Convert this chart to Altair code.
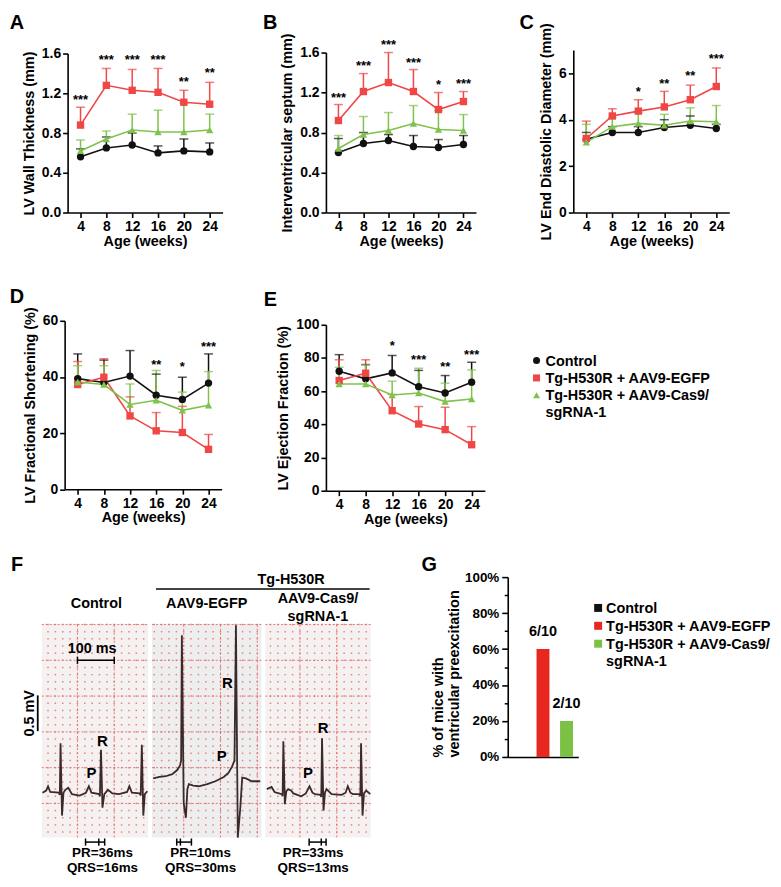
import altair as alt
import pandas as pd

FONT = "Liberation Sans"
W, H = 770, 871
M = 8  # page margin


def cx(x):
    return x - M


def cy(y):
    return y - M


weeks = [4, 8, 12, 16, 20, 24]
groups = ["Control", "Tg-H530R + AAV9-EGFP", "Tg-H530R + AAV9-Cas9/ sgRNA-1"]
legend_text = ["Control", "Tg-H530R + AAV9-EGFP", "Tg-H530R + AAV9-Cas9/\nsgRNA-1"]
line_colors = ["#111111", "#ef4646", "#7fc24c"]
bar_colors = ["#111111", "#e8271f", "#7bc143"]
shapes = ["circle", "square", "triangle-up"]

# ---- A: LV wall thickness (mean, upper error bar) ----
a_ctrl = [0.56, 0.65, 0.68, 0.60, 0.62, 0.61]
a_ctrl_up = [0.64, 0.76, 0.80, 0.67, 0.74, 0.70]
a_egfp = [0.88, 1.28, 1.23, 1.21, 1.11, 1.09]
a_egfp_up = [1.06, 1.45, 1.44, 1.45, 1.23, 1.31]
a_cas = [0.62, 0.74, 0.83, 0.81, 0.81, 0.83]
a_cas_up = [0.73, 0.82, 0.99, 1.03, 1.10, 0.99]
a_sig = ["***", "***", "***", "***", "**", "**"]
a_sig_y = [1.13, 1.53, 1.53, 1.53, 1.31, 1.40]

# ---- B: interventricular septum ----
b_ctrl = [0.60, 0.69, 0.72, 0.66, 0.65, 0.68]
b_ctrl_up = [0.74, 0.80, 0.78, 0.77, 0.73, 0.77]
b_egfp = [0.92, 1.21, 1.30, 1.21, 1.03, 1.11]
b_egfp_up = [1.08, 1.39, 1.60, 1.43, 1.20, 1.21]
b_cas = [0.64, 0.78, 0.82, 0.89, 0.83, 0.82]
b_cas_up = [0.77, 0.96, 1.00, 1.07, 1.02, 0.98]
b_sig = ["***", "***", "***", "***", "*", "***"]
b_sig_y = [1.15, 1.47, 1.68, 1.50, 1.28, 1.29]

# ---- C: LV end diastolic diameter ----
c_ctrl = [3.16, 3.45, 3.45, 3.66, 3.76, 3.62]
c_ctrl_up = [3.45, 3.70, 3.70, 4.00, 4.16, 3.80]
c_egfp = [3.19, 4.16, 4.37, 4.55, 4.86, 5.43]
c_egfp_up = [3.94, 4.47, 4.86, 5.22, 5.49, 6.23]
c_cas = [3.02, 3.70, 3.84, 3.76, 3.94, 3.91]
c_cas_up = [3.80, 4.09, 4.30, 4.23, 4.51, 4.61]
c_sig = ["", "", "*", "**", "**", "***"]
c_sig_y = [0, 0, 5.2, 5.55, 5.86, 6.6]

# ---- D: LV fractional shortening ----
d_ctrl = [39.4, 38.0, 40.3, 33.5, 32.0, 37.8]
d_ctrl_up = [48.2, 46.0, 49.4, 41.0, 39.9, 48.2]
d_egfp = [37.3, 39.9, 26.1, 20.8, 20.2, 14.2]
d_egfp_up = [45.5, 46.5, 32.9, 27.3, 29.5, 19.5]
d_cas = [38.2, 37.3, 30.2, 31.7, 28.1, 29.9]
d_cas_up = [44.0, 44.0, 37.5, 42.3, 34.6, 41.9]
d_sig = ["", "", "", "**", "*", "***"]
d_sig_y = [0, 0, 0, 44.4, 43.5, 50.8]

# ---- E: LV ejection fraction ----
e_ctrl = [72.0, 67.4, 71.0, 62.7, 58.9, 65.4]
e_ctrl_up = [82.0, 76.0, 81.5, 72.5, 69.4, 77.4]
e_egfp = [66.4, 70.8, 48.2, 40.2, 36.8, 27.7]
e_egfp_up = [78.9, 78.9, 58.0, 50.7, 50.3, 38.6]
e_cas = [64.3, 64.3, 57.7, 58.9, 53.7, 55.3]
e_cas_up = [74.4, 75.8, 66.0, 73.8, 64.8, 72.8]
e_sig = ["", "", "*", "***", "**", "***"]
e_sig_y = [0, 0, 86.9, 78.9, 74.4, 81.9]

# ---- F: ECG traces (time in ms, voltage in mV) ----
ecg1_t = [2, 12, 17, 23, 46, 49, 51, 55, 59, 64, 72, 82, 103, 120, 128, 135, 156, 158, 161, 165, 170, 180,
          192, 210, 232, 238, 245, 266, 269, 272, 276, 280, 287]
ecg1_v = [0.00, 0.03, 0.09, 0.01, 0.00, -0.03, 0.69, -0.32, 0.00, 0.04, 0.07, -0.02, -0.04, 0.00, 0.09, 0.00,
          -0.02, -0.05, 0.60, -0.21, -0.02, 0.04, -0.01, -0.02, 0.01, 0.09, 0.00, -0.01, -0.04, 0.67, -0.32,
          -0.02, 0.02]
ecg2_t = [3, 20, 37, 55, 69, 76, 79, 81, 86, 92, 96, 100, 112, 127, 150, 172, 195, 208, 217, 224, 228, 233,
          240, 245, 255, 271, 294]
ecg2_v = [0.20, 0.22, 0.23, 0.26, 0.32, 0.38, 0.45, 2.20, -0.15, -0.35, 0.05, 0.12, 0.10, 0.09, 0.12, 0.16,
          0.22, 0.28, 0.36, 0.45, 2.34, -0.63, -0.20, 0.21, 0.20, 0.16, 0.16]
ecg3_t = [4, 17, 25, 30, 45, 47, 49, 53, 57, 62, 70, 76, 98, 110, 120, 128, 135, 150, 152, 154, 158, 162, 166,
          180, 207, 218, 224, 231, 238, 256, 258, 260, 264, 268, 274, 285]
ecg3_v = [0.05, 0.08, 0.01, 0.00, -0.02, -0.05, 0.72, -0.16, 0.02, 0.05, 0.03, -0.01, -0.05, -0.01, 0.09, 0.00,
          -0.02, -0.03, -0.06, 0.76, -0.25, 0.00, 0.05, -0.02, -0.03, 0.00, 0.09, 0.00, -0.02, -0.02, -0.05,
          0.69, -0.32, -0.01, 0.03, -0.02]
pr_ms = [36, 10, 33]
qrs_ms = [16, 30, 13]
interval_start = [119, 67, 119]
p_label_pos = [(135, 0.28), (189, 0.51), (116, 0.28)]
r_label_pos = [(165, 0.72), (205, 1.53), (157, 0.90)]
interval_text_t = [165, 132, 130]
grid_phase_ms = [97, 86, 94]
scale_ms = 100
scale_mv = 0.5

# ---- G: preexcitation ----
g_pos = [0, 6, 2]
g_n = [10, 10, 10]

AX = dict(labelFont=FONT, labelFontSize=14, labelFontWeight="bold", labelColor="black",
          titleFont=FONT, titleFontSize=14.5, titleFontWeight="bold", titleColor="black",
          domainColor="black", domainWidth=1.6, tickColor="black", tickWidth=1.6, tickSize=5,
          grid=False, labelOverlap=False, labelPadding=2)


def series_frame(means, uppers):
    rows = []
    for g, m, u in zip(groups, means, uppers):
        for w, mv, uv in zip(weeks, m, u):
            rows.append({"week": w, "group": g, "mean": mv, "upper": uv})
    return pd.DataFrame(rows)


def sig_frame(labels, ys):
    return pd.DataFrame([{"week": w, "label": l, "y": y} for w, l, y in zip(weeks, labels, ys) if l])


def time_panel(df, sdf, ydom, xr, yr, yvals, yfmt, ytitle):
    xs = alt.Scale(domain=[2, 26], range=[cx(xr[0]), cx(xr[1])], nice=False, zero=False)
    ys = alt.Scale(domain=ydom, range=[cy(yr[0]), cy(yr[1])], nice=False, zero=False)
    xax = alt.Axis(orient="bottom", offset=cy(yr[0]) - H, values=weeks, title="Age (weeks)",
                   titlePadding=1, **AX)
    yax = alt.Axis(orient="left", offset=-cx(xr[0]), values=yvals, format=yfmt, title=ytitle,
                   titlePadding=5, **AX)
    X = alt.X("week:Q", scale=xs, axis=xax)
    col = alt.Color("group:N", scale=alt.Scale(domain=groups, range=line_colors), legend=None)
    shp = alt.Shape("group:N", scale=alt.Scale(domain=groups, range=shapes), legend=None)
    base = alt.Chart(df)
    err = base.mark_rule(strokeWidth=1.5).encode(
        x=X, y=alt.Y("mean:Q", scale=ys, axis=yax), y2="upper:Q", color=col)
    cap = base.mark_tick(orient="horizontal", size=9, thickness=1.5).encode(
        x=X, y=alt.Y("upper:Q", scale=ys, axis=yax), color=col)
    line = base.mark_line(strokeWidth=1.6).encode(
        x=X, y=alt.Y("mean:Q", scale=ys, axis=yax), color=col)
    pts = base.mark_point(filled=True, size=55, opacity=1).encode(
        x=X, y=alt.Y("mean:Q", scale=ys, axis=yax), color=col, shape=shp)
    stars = alt.Chart(sdf).mark_text(font=FONT, fontSize=13, fontWeight="bold", color="black").encode(
        x=X, y=alt.Y("y:Q", scale=ys, axis=yax), text="label:N")
    return alt.layer(err, cap, line, pts, stars)


panel_a = time_panel(series_frame([a_ctrl, a_egfp, a_cas], [a_ctrl_up, a_egfp_up, a_cas_up]),
                     sig_frame(a_sig, a_sig_y), [0, 1.6], (68, 224), (211, 51),
                     [0, 0.4, 0.8, 1.2, 1.6], ".1f", "LV Wall Thickness (mm)")
panel_b = time_panel(series_frame([b_ctrl, b_egfp, b_cas], [b_ctrl_up, b_egfp_up, b_cas_up]),
                     sig_frame(b_sig, b_sig_y), [0, 1.6], (328, 479), (211, 50),
                     [0, 0.4, 0.8, 1.2, 1.6], ".1f", "Interventricular septum (mm)")
panel_c = time_panel(series_frame([c_ctrl, c_egfp, c_cas], [c_ctrl_up, c_egfp_up, c_cas_up]),
                     sig_frame(c_sig, c_sig_y), [0, 7], (577, 734), (211, 47.5),
                     [0, 2, 4, 6], "d", "LV End Diastolic Diameter (mm)")
panel_d = time_panel(series_frame([d_ctrl, d_egfp, d_cas], [d_ctrl_up, d_egfp_up, d_cas_up]),
                     sig_frame(d_sig, d_sig_y), [0, 60], (65, 223), (489.5, 320),
                     [0, 20, 40, 60], "d", "LV Fractional Shortening (%)")
panel_e = time_panel(series_frame([e_ctrl, e_egfp, e_cas], [e_ctrl_up, e_egfp_up, e_cas_up]),
                     sig_frame(e_sig, e_sig_y), [0, 100], (328, 488), (491, 324),
                     [0, 20, 40, 60, 80, 100], "d", "LV Ejection Fraction (%)")

# ---- ECG panels ----
ECG_V = [-0.625, 2.36]
ECG_Y = (840, 625)


def ecg_panel(i, t, v, xr, tmax, bg, extras=()):
    xs = alt.Scale(domain=[0, tmax], range=[cx(xr[0]), cx(xr[1])], nice=False, zero=False)
    ys = alt.Scale(domain=ECG_V, range=[cy(ECG_Y[0]), cy(ECG_Y[1])], nice=False, zero=False)
    X = lambda f: alt.X(f, scale=xs, axis=None)
    Y = lambda f: alt.Y(f, scale=ys, axis=None)
    rect = alt.Chart(pd.DataFrame({"x0": [0], "x1": [tmax], "y0": [ECG_V[0]], "y1": [ECG_V[1]]})).mark_rect(
        color=bg).encode(x=X("x0:Q"), x2="x1:Q", y=Y("y0:Q"), y2="y1:Q")
    # ECG paper: major lines every 100 ms / 0.5 mV, dots every 20 ms / 0.1 mV
    gx0, gv0 = grid_phase_ms[i], -0.15
    maj_x = [gx0 + 100 * k for k in range(-2, 4) if 0 < gx0 + 100 * k < tmax]
    maj_v = [round(gv0 + 0.5 * k, 3) for k in range(-1, 6) if ECG_V[0] < gv0 + 0.5 * k < ECG_V[1]]
    min_x = [gx0 + 20 * k for k in range(-6, 12) if 0 < gx0 + 20 * k < tmax]
    min_v = [round(gv0 + 0.1 * k, 3) for k in range(-5, 26) if ECG_V[0] < gv0 + 0.1 * k < ECG_V[1]]
    vgrid = alt.Chart(pd.DataFrame({"t": maj_x, "a": ECG_V[0], "b": ECG_V[1]})).mark_rule(
        color="#e46a6a", strokeWidth=0.9, strokeDash=[2, 2]).encode(x=X("t:Q"), y=Y("a:Q"), y2="b:Q")
    hgrid = alt.Chart(pd.DataFrame({"v": maj_v, "a": 0, "b": tmax})).mark_rule(
        color="#e46a6a", strokeWidth=0.9, strokeDash=[2, 2]).encode(y=Y("v:Q"), x=X("a:Q"), x2="b:Q")
    dots = alt.Chart(pd.DataFrame([{"t": a, "v": b} for a in min_x for b in min_v])).mark_square(
        size=2.2, color="#e27575", opacity=0.9).encode(x=X("t:Q"), y=Y("v:Q"))
    trace = alt.Chart(pd.DataFrame({"t": t, "v": v})).mark_line(
        color="#3a2a2a", strokeWidth=1.8).encode(x=X("t:Q"), y=Y("v:Q"))
    pr_df = pd.DataFrame({"t": [p_label_pos[i][0], r_label_pos[i][0]],
                          "v": [p_label_pos[i][1], r_label_pos[i][1]], "lab": ["P", "R"]})
    pr_txt = alt.Chart(pr_df).mark_text(font=FONT, fontSize=15, fontWeight="bold", color="black").encode(
        x=X("t:Q"), y=Y("v:Q"), text="lab:N")
    s = interval_start[i]
    ticks_t = [s, s + pr_ms[i], s + pr_ms[i] + qrs_ms[i]]
    bv = -0.69
    br_h = alt.Chart(pd.DataFrame({"a": [s], "b": [ticks_t[-1]], "v": [bv]})).mark_rule(
        color="black", strokeWidth=1.5).encode(x=X("a:Q"), x2="b:Q", y=Y("v:Q"))
    br_v = alt.Chart(pd.DataFrame({"t": ticks_t, "a": bv - 0.05, "b": bv + 0.05})).mark_rule(
        color="black", strokeWidth=1.5).encode(x=X("t:Q"), y=Y("a:Q"), y2="b:Q")
    txt = alt.Chart(pd.DataFrame({"t": [interval_text_t[i]] * 2, "v": [-0.84, -1.056],
                                  "lab": [f"PR={pr_ms[i]}ms", f"QRS={qrs_ms[i]}ms"]})).mark_text(
        font=FONT, fontSize=13.5, fontWeight="bold", color="black").encode(
        x=X("t:Q"), y=Y("v:Q"), text="lab:N")
    layers = [rect, dots, vgrid, hgrid, trace, pr_txt, br_h, br_v, txt]
    if "scalebars" in extras:
        t0, vbar = 97, 1.85
        layers.append(alt.Chart(pd.DataFrame({"a": [t0], "b": [t0 + scale_ms], "v": [vbar]})).mark_rule(
            color="black", strokeWidth=1.5).encode(x=X("a:Q"), x2="b:Q", y=Y("v:Q")))
        layers.append(alt.Chart(pd.DataFrame({"t": [t0, t0 + scale_ms], "a": vbar - 0.05, "b": vbar + 0.05})).mark_rule(
            color="black", strokeWidth=1.5).encode(x=X("t:Q"), y=Y("a:Q"), y2="b:Q"))
        layers.append(alt.Chart(pd.DataFrame({"t": [t0 + scale_ms / 2 - 10], "v": [2.01], "lab": [f"{scale_ms} ms"]})).mark_text(
            font=FONT, fontSize=14.5, fontWeight="bold", color="black").encode(x=X("t:Q"), y=Y("v:Q"), text="lab:N"))
        v0 = 0.86
        layers.append(alt.Chart(pd.DataFrame({"t": [-11], "a": [v0], "b": [v0 + scale_mv]})).mark_rule(
            color="black", strokeWidth=1.8).encode(x=X("t:Q"), y=Y("a:Q"), y2="b:Q"))
        layers.append(alt.Chart(pd.DataFrame({"t": [-32], "v": [v0 + scale_mv / 2], "lab": [f"{scale_mv} mV"]})).mark_text(
            font=FONT, fontSize=14.5, fontWeight="bold", color="black", angle=270).encode(
            x=X("t:Q"), y=Y("v:Q"), text="lab:N"))
    return alt.layer(*layers)


ecg1 = ecg_panel(0, ecg1_t, ecg1_v, (42, 149), 289, "#f5f1f1", extras=("scalebars",))
ecg2 = ecg_panel(1, ecg2_t, ecg2_v, (153, 263), 297, "#eeeeee")
ecg3 = ecg_panel(2, ecg3_t, ecg3_v, (267, 373), 286, "#f5f1f1")

# ---- G bars ----
g_df = pd.DataFrame({"group": groups, "pct": [100 * p / n for p, n in zip(g_pos, g_n)],
                     "lab": [f"{p}/{n}" if p else "" for p, n in zip(g_pos, g_n)]})
gxs = alt.Scale(domain=groups, range=[cx(511), cx(582)], paddingInner=0, paddingOuter=0)
gys = alt.Scale(domain=[0, 100], range=[cy(759), cy(578)], nice=False, zero=False)
GAX = dict(AX)
GAX.update(labelFontSize=13.5, tickSize=6, labelPadding=3)
g_xax = alt.Axis(orient="bottom", offset=cy(759) - H, ticks=False, labels=False, title=None,
                 **{k: v for k, v in GAX.items() if k not in ("labelOverlap",)})
g_yax = alt.Axis(orient="left", offset=-cx(511), values=[0, 20, 40, 60, 80, 100], labelExpr="datum.value + '%'",
                 title=["% of mice with", "ventricular preexcitation"], titlePadding=3, titleAnchor="start",
                 **GAX)
g_bars = alt.Chart(g_df).mark_bar(size=13).encode(
    x=alt.X("group:N", scale=gxs, axis=g_xax, sort=groups),
    y=alt.Y("pct:Q", scale=gys, axis=g_yax),
    color=alt.Color("group:N", scale=alt.Scale(domain=groups, range=bar_colors), legend=None))
g_text = alt.Chart(g_df).mark_text(font=FONT, fontSize=14.5, fontWeight="bold", color="black",
                                   baseline="alphabetic", dy=-13).encode(
    x=alt.X("group:N", scale=gxs, axis=g_xax, sort=groups),
    y=alt.Y("pct:Q", scale=gys, axis=g_yax), text="lab:N")
panel_g = alt.layer(g_bars, g_text)
g_minor = alt.Chart(g_df).mark_point(opacity=0).encode(
    y=alt.Y("pct:Q", scale=gys, axis=alt.Axis(orient="left", offset=-cx(511), values=[10, 30, 50, 70, 90],
                                               labels=False, domain=False, title=None, tickSize=3.5,
                                               tickWidth=1.5, tickColor="black", grid=False)))

# ---- legends ----
leg_df = pd.DataFrame({"group": groups, "label": legend_text})
leg_y = alt.Y("group:N", scale=alt.Scale(domain=groups, range=[cy(360), cy(395)], padding=0), axis=None)
leg1 = alt.layer(
    alt.Chart(leg_df).mark_point(filled=True, size=50, opacity=1).encode(
        x=alt.value(cx(540)), y=leg_y,
        color=alt.Color("group:N", scale=alt.Scale(domain=groups, range=line_colors), legend=None),
        shape=alt.Shape("group:N", scale=alt.Scale(domain=groups, range=shapes), legend=None)),
    alt.Chart(leg_df).mark_text(align="left", baseline="alphabetic", dy=5, font=FONT, fontSize=14.5,
                                fontWeight="bold", lineBreak="\n", lineHeight=17, color="black").encode(
        x=alt.value(cx(549)), y=leg_y, text="label:N"))
leg_y2 = alt.Y("group:N", scale=alt.Scale(domain=groups, range=[cy(609), cy(645)], padding=0), axis=None)
leg2 = alt.layer(
    alt.Chart(leg_df).mark_square(size=64, opacity=1).encode(
        x=alt.value(cx(602)), y=leg_y2,
        color=alt.Color("group:N", scale=alt.Scale(domain=groups, range=bar_colors), legend=None)),
    alt.Chart(leg_df).mark_text(align="left", baseline="alphabetic", dy=5, font=FONT, fontSize=14.5,
                                fontWeight="bold", lineBreak="\n", lineHeight=17, color="black").encode(
        x=alt.value(cx(610)), y=leg_y2, text="label:N"))


# ---- annotation text ----
def note(text, x, y, size=14.5, align="center", baseline="middle"):
    return alt.Chart(pd.DataFrame({"s": [text]})).mark_text(
        font=FONT, fontSize=size, fontWeight="bold", color="black", align=align, baseline=baseline).encode(
        x=alt.value(cx(x)), y=alt.value(cy(y)), text="s:N")


notes = [
    note("A", 17, 26, 20, baseline="alphabetic"), note("B", 272, 26, 20, baseline="alphabetic"),
    note("C", 530, 26, 20, baseline="alphabetic"),
    note("D", 17, 302, 20, baseline="alphabetic"), note("E", 272, 305.5, 20, baseline="alphabetic"),
    note("F", 17, 572, 20, baseline="alphabetic"), note("G", 432, 572, 20, baseline="alphabetic"),
    note("Tg-H530R", 293, 581), note("Control", 97, 605), note("AAV9-EGFP", 208, 605),
    note("AAV9-Cas9/", 320, 600), note("sgRNA-1", 320, 618),
]
tg_rule = alt.Chart(pd.DataFrame({"s": [0]})).mark_rule(color="#444444", strokeWidth=2).encode(
    x=alt.value(cx(157)), x2=alt.value(cx(372)), y=alt.value(cy(590)))

chart = alt.layer(
    ecg1, ecg2, ecg3, panel_g, g_minor,
    panel_a, panel_b, panel_c, panel_d, panel_e,
    leg1, leg2, tg_rule, *notes
).resolve_scale(
    x="independent", y="independent", color="independent", shape="independent"
).properties(
    width=W, height=H, padding=0, autosize=alt.AutoSizeParams(type="none")
).configure_view(stroke=None)

chart.save("out.html", embed_options={"renderer": "svg", "actions": False})
